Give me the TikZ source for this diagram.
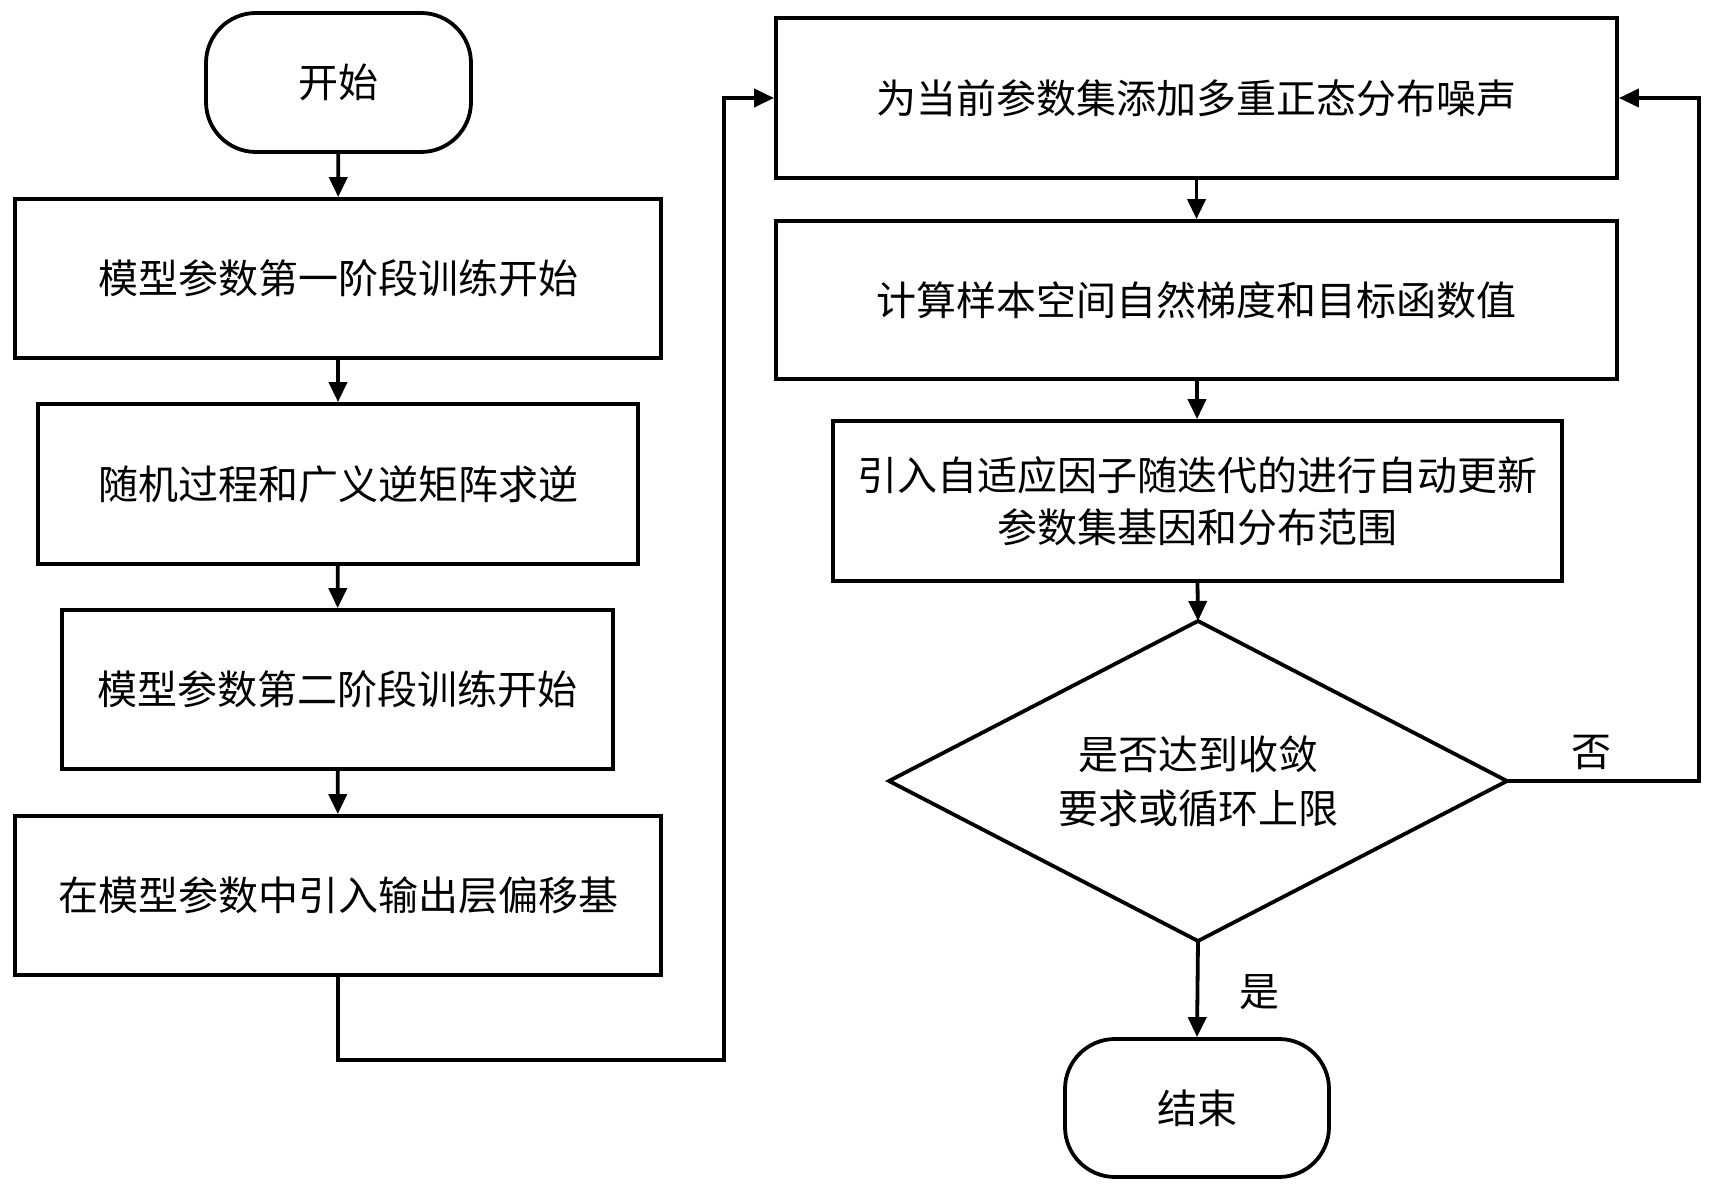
\documentclass[tikz,border=0pt]{standalone}
\usepackage{fontspec}
\setmainfont{Noto Sans CJK SC}
\usetikzlibrary{arrows.meta}
\begin{document}
\begin{tikzpicture}[x=1pt,y=1pt,
  every node/.style={font=\fontsize{40}{52}\selectfont},
  procbox/.style={draw,line width=3.8pt,inner sep=0pt,align=center},
  termbox/.style={draw,line width=3.8pt,inner sep=0pt,rounded corners=50pt,minimum width=265pt,minimum height=139pt},
  dectext/.style={inner sep=0pt,align=center,font=\fontsize{40}{54}\selectfont},
  decshape/.style={line width=3.8pt,line join=miter},
  conn/.style={line width=3.8pt,-{Triangle[length=20pt,width=18pt]}},
]
\useasboundingbox (0,0) rectangle (1714,1192);
\fill[white] (0,0) rectangle (1714,1192);

\node[termbox] (start) at (338.5,1109.5) {开始};
\node[procbox,minimum width=646pt,minimum height=159pt] (b1) at (338,913.5) {模型参数第一阶段训练开始};
\node[procbox,minimum width=600pt,minimum height=160pt] (b2) at (338,708) {随机过程和广义逆矩阵求逆};
\node[procbox,minimum width=551pt,minimum height=159pt] (b3) at (337.5,502.5) {模型参数第二阶段训练开始};
\node[procbox,minimum width=646pt,minimum height=159pt] (b4) at (338,296.5) {在模型参数中引入输出层偏移基};

\node[procbox,minimum width=841pt,minimum height=160pt] (r1) at (1196.5,1094) {为当前参数集添加多重正态分布噪声};
\node[procbox,minimum width=841pt,minimum height=158pt] (r2) at (1196.5,892) {计算样本空间自然梯度和目标函数值};
\node[procbox,minimum width=729pt,minimum height=160pt] (r3) at (1197.5,691) {引入自适应因子随迭代的进行自动更新\\参数集基因和分布范围};

\node[dectext] (dec) at (1198,411) {是否达到收敛\\要求或循环上限};
\coordinate (dtop) at (1198,571);
\coordinate (dbot) at (1198,251);
\coordinate (dleft) at (889,411);
\coordinate (dright) at (1507,411);
\draw[decshape] (dtop) -- (dright) -- (dbot) -- (dleft) -- cycle;

\node[termbox,minimum width=264pt,minimum height=138pt] (end) at (1197,84) {结束};

\coordinate (lowL) at (338,132);
\coordinate (lowR) at (724,132);
\coordinate (topL) at (724,1094);
\coordinate (loopB) at (1699,411);
\coordinate (loopT) at (1699,1094);

\draw[conn] (start) -- (b1);
\draw[conn] (b1) -- (b2);
\draw[conn] (b2) -- (b3);
\draw[conn] (b3) -- (b4);
\draw[conn] (b4.south) -- (lowL) -- (lowR) -- (topL) -- (r1.west);
\draw[conn] (r1) -- (r2);
\draw[conn] (r2) -- (r3);
\draw[conn] (r3.south) -- (dtop);
\draw[conn] (dbot) -- (end.north);
\draw[conn] (dright) -- (loopB) -- (loopT) -- (r1.east);

\node (no) at (1591,440) {否};
\node (yes) at (1259,200) {是};
\end{tikzpicture}
\end{document}
